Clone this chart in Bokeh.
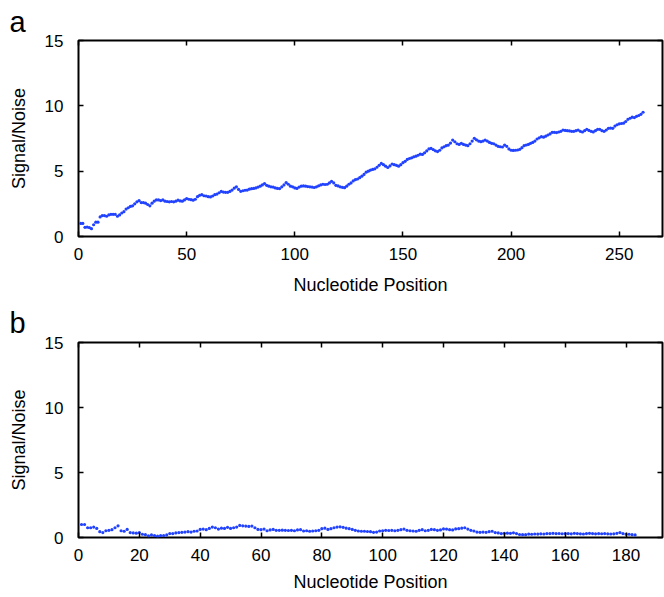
from bokeh.plotting import figure
from bokeh.models import Range1d, LinearAxis, Title, FixedTicker
from bokeh.layouts import column
from bokeh.embed import file_html
from bokeh.resources import INLINE

# ---------------- data ----------------
pos_a = list(range(1, 262))
sn_a = [
    1.0, 1.0, 0.7, 0.72, 0.68, 0.6, 0.9, 1.1, 1.1, 1.5,
    1.6, 1.6, 1.55, 1.65, 1.7, 1.7, 1.7, 1.55, 1.65, 1.8,
    1.9, 2.1, 2.2, 2.3, 2.35, 2.5, 2.65, 2.75, 2.6, 2.6,
    2.55, 2.45, 2.35, 2.55, 2.7, 2.8, 2.8, 2.75, 2.8, 2.7,
    2.68, 2.65, 2.68, 2.65, 2.7, 2.78, 2.72, 2.7, 2.8, 2.9,
    2.85, 2.82, 2.78, 2.85, 3.05, 3.15, 3.2, 3.12, 3.1, 3.05,
    3.03, 3.1, 3.2, 3.25, 3.35, 3.45, 3.4, 3.38, 3.38, 3.45,
    3.55, 3.7, 3.8, 3.6, 3.46, 3.5, 3.54, 3.55, 3.62, 3.66,
    3.68, 3.72, 3.78, 3.85, 3.95, 4.05, 3.92, 3.85, 3.8, 3.78,
    3.72, 3.68, 3.67, 3.8, 3.95, 4.13, 4.0, 3.85, 3.8, 3.72,
    3.68, 3.78, 3.85, 3.87, 3.85, 3.82, 3.8, 3.78, 3.75, 3.8,
    3.88, 3.95, 4.0, 3.98, 4.0, 4.1, 4.22, 4.1, 3.92, 3.87,
    3.8, 3.76, 3.74, 3.85, 4.0, 4.1, 4.25, 4.35, 4.4, 4.5,
    4.62, 4.75, 4.92, 5.0, 5.08, 5.13, 5.18, 5.3, 5.45, 5.59,
    5.5, 5.38, 5.28, 5.4, 5.55, 5.5, 5.45, 5.38, 5.5, 5.65,
    5.75, 5.9, 5.97, 6.02, 6.1, 6.15, 6.22, 6.3, 6.28, 6.4,
    6.55, 6.7, 6.74, 6.65, 6.56, 6.5, 6.6, 6.78, 6.87, 6.95,
    7.0, 7.15, 7.38, 7.25, 7.1, 7.05, 7.13, 7.05, 7.0, 6.95,
    7.1, 7.3, 7.51, 7.4, 7.3, 7.26, 7.3, 7.38, 7.3, 7.2,
    7.13, 7.1, 7.0, 6.9, 6.87, 6.85, 7.0, 6.9, 6.7, 6.6,
    6.59, 6.6, 6.62, 6.67, 6.8, 6.95, 7.0, 7.05, 7.13, 7.2,
    7.3, 7.46, 7.55, 7.64, 7.6, 7.68, 7.77, 7.85, 7.97, 7.97,
    7.95, 8.0, 8.05, 8.15, 8.12, 8.1, 8.08, 8.05, 8.05, 8.1,
    8.15, 8.05, 8.0, 8.1, 8.2, 8.12, 8.05, 8.0, 8.1, 8.2,
    8.2, 8.1, 8.05, 8.15, 8.28, 8.3, 8.28, 8.45, 8.55, 8.62,
    8.65, 8.67, 8.8, 8.97, 9.05, 9.13, 9.1, 9.2, 9.26, 9.35,
    9.51,
]

pos_b = list(range(1, 184))
sn_b = [
    1.0, 1.0, 0.75, 0.75, 0.8, 0.7, 0.45, 0.38, 0.52, 0.55,
    0.6, 0.75, 0.9, 0.52, 0.48, 0.62, 0.38, 0.35, 0.33, 0.38,
    0.25, 0.22, 0.12, 0.2, 0.15, 0.1, 0.15, 0.15, 0.2, 0.3,
    0.3, 0.35, 0.38, 0.4, 0.42, 0.45, 0.42, 0.48, 0.5, 0.62,
    0.65, 0.6, 0.7, 0.8, 0.75, 0.65, 0.72, 0.7, 0.78, 0.7,
    0.75, 0.8, 0.93, 0.9, 0.88, 0.85, 0.88, 0.75, 0.62, 0.6,
    0.65, 0.52, 0.58, 0.62, 0.55, 0.55, 0.56, 0.55, 0.54, 0.55,
    0.52, 0.58, 0.6, 0.5, 0.52, 0.48, 0.5, 0.52, 0.55, 0.68,
    0.72, 0.62, 0.68, 0.75, 0.8, 0.82, 0.78, 0.72, 0.68, 0.62,
    0.55, 0.5, 0.48, 0.48, 0.46, 0.45, 0.4, 0.42, 0.5, 0.52,
    0.55, 0.54, 0.55, 0.52, 0.55, 0.6, 0.65, 0.55, 0.52, 0.5,
    0.48, 0.55, 0.6, 0.52, 0.55, 0.62, 0.6, 0.55, 0.58, 0.66,
    0.65, 0.6, 0.58, 0.66, 0.68, 0.72, 0.75, 0.65, 0.55, 0.5,
    0.42, 0.4, 0.42, 0.4, 0.45, 0.48, 0.38, 0.35, 0.3, 0.32,
    0.33, 0.32, 0.36, 0.3, 0.23, 0.22, 0.22, 0.26, 0.25, 0.27,
    0.26, 0.28, 0.27, 0.3, 0.3, 0.32, 0.3, 0.31, 0.29, 0.3,
    0.3, 0.28, 0.32, 0.3, 0.28, 0.27, 0.3, 0.32, 0.3, 0.28,
    0.3, 0.29, 0.3, 0.28, 0.27, 0.28, 0.32, 0.38, 0.3, 0.25,
    0.25, 0.22, 0.2,
]

xticks_a = [0, 50, 100, 150, 200, 250]
xticks_b = [0, 20, 40, 60, 80, 100, 120, 140, 160, 180]
yticks = [0, 5, 10, 15]
xmax_a = 270
xmax_b = 192

FONT = "Liberation Sans"
BLUE = "#2142ff"


def style_axis(ax, ticks, show_labels=True):
    ax.ticker = FixedTicker(ticks=ticks)
    ax.axis_line_color = None
    ax.major_tick_in = 5
    ax.major_tick_out = 0
    ax.major_tick_line_color = "black"
    ax.major_tick_line_width = 1.5
    ax.minor_tick_line_color = None
    if show_labels:
        ax.major_label_text_font = FONT
        ax.major_label_text_font_size = "17px"
        ax.major_label_text_color = "black"
    else:
        ax.major_label_overrides = {t: "" for t in ticks}
        ax.major_label_standoff = 0


def make_panel(xs, ys, xmax, xticks, letter, letter_standoff,
               height, top, bottom, xstandoff):
    p = figure(width=664, height=height,
               x_range=Range1d(0, xmax), y_range=Range1d(0, 15),
               output_backend="svg", toolbar_location=None,
               min_border_left=78, min_border_right=2,
               min_border_top=top, min_border_bottom=bottom)
    p.grid.visible = False
    p.outline_line_color = "black"
    p.outline_line_width = 2
    p.scatter(xs, ys, size=3.2, color=BLUE, line_color=None)

    xa = p.xaxis[0]
    style_axis(xa, xticks)
    xa.major_label_standoff = 11
    xa.axis_label = "Nucleotide Position"
    xa.axis_label_text_font = FONT
    xa.axis_label_text_font_size = "18px"
    xa.axis_label_text_font_style = "normal"
    xa.axis_label_text_color = "black"
    xa.axis_label_standoff = xstandoff

    ya = p.yaxis[0]
    style_axis(ya, yticks)
    ya.major_label_standoff = 15
    ya.axis_label = "Signal/Noise"
    ya.axis_label_text_font = FONT
    ya.axis_label_text_font_size = "18px"
    ya.axis_label_text_font_style = "normal"
    ya.axis_label_text_color = "black"
    ya.axis_label_standoff = 13

    top_ax = LinearAxis()
    style_axis(top_ax, xticks, show_labels=False)
    p.add_layout(top_ax, "above")
    right_ax = LinearAxis()
    style_axis(right_ax, yticks, show_labels=False)
    p.add_layout(right_ax, "right")

    ttl = Title(text=letter, align="left", offset=-69,
                text_font=FONT, text_font_size="29px",
                text_font_style="normal", text_color="black",
                standoff=letter_standoff)
    p.add_layout(ttl, "above")
    return p


pa = make_panel(pos_a, sn_a, xmax_a, xticks_a, "a", 6, 300, 40, 64, 12)
pb = make_panel(pos_b, sn_b, xmax_b, xticks_b, "b", 8, 297, 42, 60, 8)

layout = column(pa, pb, spacing=0)
open("out.html", "w").write(file_html(layout, INLINE))
